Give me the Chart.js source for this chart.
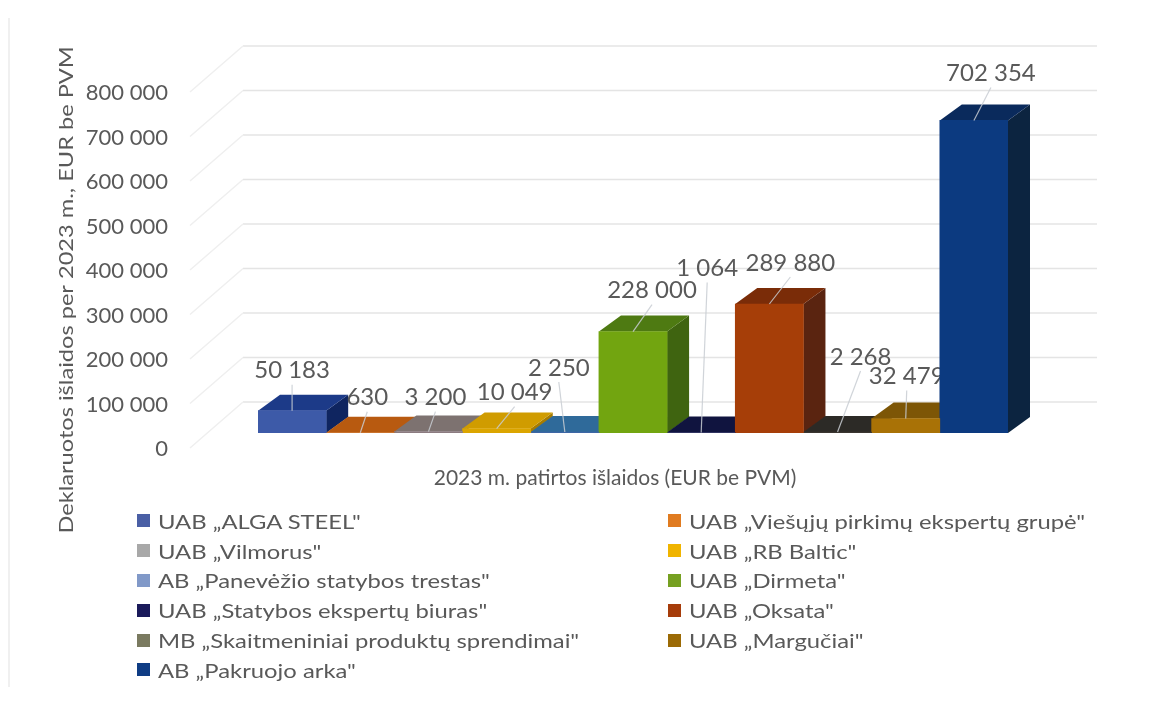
<!DOCTYPE html>
<html lang="lt">
<head>
<meta charset="utf-8">
<title>2023 m. patirtos išlaidos</title>
<script src="https://cdn.jsdelivr.net/npm/chart.js@4"></script>
<style>
  html, body { margin: 0; background: #fff; }
  #wrap { position: relative; width: 1155px; height: 707px; overflow: hidden; border-left: 0; }
  #wrap::before { content: ''; position: absolute; left: 8px; top: 18px; bottom: 20px; width: 2px; background: #f0f0f0; }
  canvas { position: absolute; left: 0; top: 0; filter: blur(0.4px); }
  #legend { position: absolute; left: 137px; top: 506px; display: grid; grid-template-columns: 531px 460px; grid-auto-rows: 29.8px;
    font: 20px Lato, sans-serif; color: #595959; filter: blur(0.4px); }
  #legend div { display: flex; align-items: center; white-space: nowrap; }
  #legend i { width: 13px; height: 13px; margin-right: 8px; flex: none; }
  #legend span { display: inline-block; transform: scaleX(1.19); transform-origin: left center; }
</style>
</head>
<body>
<div id="wrap">
  <canvas id="chart" width="1155" height="707"></canvas>
  <div id="legend"></div>
</div>
<script>
const categories = ['2023 m. patirtos išlaidos (EUR be PVM)'];
const companies = [
  'UAB „ALGA STEEL"', 'UAB „Viešųjų pirkimų ekspertų grupė"', 'UAB „Vilmorus"', 'UAB „RB Baltic"',
  'AB „Panevėžio statybos trestas"', 'UAB „Dirmeta"', 'UAB „Statybos ekspertų biuras"', 'UAB „Oksata"',
  'MB „Skaitmeniniai produktų sprendimai"', 'UAB „Margučiai"', 'AB „Pakruojo arka"'
];
const amounts = [50183, 630, 3200, 10049, 2250, 228000, 1064, 289880, 2268, 32479, 702354];
const yTicks = [0, 100000, 200000, 300000, 400000, 500000, 600000, 700000, 800000];

const frontColors = ['#3d5aa8', '#c8620c', '#8b7b80', '#dba500', '#3d66a5', '#72a510', '#14184e', '#a63e08', '#3a3530', '#a97206', '#0c3a80'];
const topColors = ['#1c3a88', '#b85a10', '#7d7270', '#d09c00', '#2f6a9a', '#4e7a12', '#10143f', '#7a2c08', '#2c2a26', '#7d5606', '#0a2a5c'];
const sideColors = ['#0f2560', '#8a420a', '#665c5c', '#a67c00', '#244f78', '#3f6410', '#0b0e30', '#5a2410', '#1e1c1a', '#5e4205', '#0c2440'];
const legendColors = ['#4a5fa5', '#e07b20', '#a8a8a8', '#f0b400', '#8199c8', '#76a021', '#1a1a5a', '#a63c0a', '#7a7a60', '#9b6a05', '#0f3c84'];

// kur dedamas užrašas, lyginant su stulpelio viršumi
const labelShift = [[0, -40], [7, -35], [7, -34], [18, -36], [-6, -64], [19, -41], [6, -164], [21, -41], [23, -75], [1, -42], [17, -47]];

const DEPTH_X = 22, DEPTH_Y = 16;
const fmt = v => String(v).replace(/\B(?=(\d{3})+$)/g, ' ');

const poly = (ctx, pts, color) => {
  ctx.fillStyle = color;
  ctx.beginPath();
  pts.forEach(([x, y], i) => i ? ctx.lineTo(x, y) : ctx.moveTo(x, y));
  ctx.closePath();
  ctx.fill();
};

const barsOf = chart => chart.data.datasets.map((d, i) => chart.getDatasetMeta(i).data[0]);

const box3d = {
  id: 'box3d',
  beforeDatasetsDraw(chart) {
    const { ctx, scales: { y } } = chart;
    ctx.save();
    // galinė siena ir šoninės linijos
    yTicks.forEach(v => {
      const py = y.getPixelForValue(v);
      ctx.strokeStyle = '#e4e4e4';
      ctx.lineWidth = 1.5;
      ctx.beginPath();
      ctx.moveTo(243, py - 31);
      ctx.lineTo(1097, py - 31);
      ctx.stroke();
      ctx.strokeStyle = '#efefef';
      ctx.beginPath();
      ctx.moveTo(190, py + 15);
      ctx.lineTo(243, py - 31);
      ctx.stroke();
    });
    barsOf(chart).forEach((bar, i) => {
      const l = bar.x - bar.width / 2, r = bar.x + bar.width / 2, t = bar.y, b = bar.base;
      poly(ctx, [[r, b], [r, t], [r + DEPTH_X, t - DEPTH_Y], [r + DEPTH_X, b - DEPTH_Y]], sideColors[i]);
      poly(ctx, [[l, t], [r, t], [r + DEPTH_X, t - DEPTH_Y], [l + DEPTH_X, t - DEPTH_Y]], topColors[i]);
    });
    // užrašai piešiami prieš priekines sienas, todėl 32 479 dalį uždengia paskutinis stulpelis
    ctx.font = '24px Lato, sans-serif';
    ctx.fillStyle = '#595959';
    ctx.textAlign = 'center';
    ctx.textBaseline = 'middle';
    barsOf(chart).forEach((bar, i) => {
      ctx.fillText(fmt(amounts[i]), bar.x + labelShift[i][0], bar.y + labelShift[i][1]);
    });
    ctx.restore();
  },
  afterDatasetsDraw(chart) {
    const { ctx } = chart;
    ctx.save();
    ctx.strokeStyle = 'rgba(200,205,210,0.85)';
    ctx.lineWidth = 1.2;
    barsOf(chart).forEach((bar, i) => {
      ctx.beginPath();
      ctx.moveTo(bar.x, bar.y);
      ctx.lineTo(bar.x + labelShift[i][0], bar.y + labelShift[i][1] + 14);
      ctx.stroke();
    });
    // vertikalios ašies pavadinimas
    ctx.translate(67, 290);
    ctx.rotate(-Math.PI / 2);
    ctx.scale(1.18, 1);
    ctx.font = '20px Lato, sans-serif';
    ctx.fillStyle = '#595959';
    ctx.textAlign = 'center';
    ctx.textBaseline = 'middle';
    ctx.fillText('Deklaruotos išlaidos per 2023 m., EUR be PVM', 0, 0);
    ctx.restore();
  }
};

new Chart(document.getElementById('chart'), {
  type: 'bar',
  data: {
    labels: categories,
    datasets: companies.map((name, i) => ({
      label: name,
      data: [amounts[i]],
      backgroundColor: frontColors[i],
      borderWidth: 0
    }))
  },
  options: {
    responsive: false,
    animation: false,
    categoryPercentage: 1,
    barPercentage: 1,
    layout: { padding: { left: 0, right: 147, top: 77, bottom: 0 } },
    plugins: { legend: { display: false }, tooltip: { enabled: false } },
    scales: {
      x: {
        afterFit: s => { s.height = 274; },
        grid: { display: false, drawTicks: false },
        border: { display: false },
        ticks: {
          color: '#595959',
          font: { family: 'Lato, sans-serif', size: 21 },
          padding: 33,
          labelOffset: -18,
          maxRotation: 0,
          autoSkip: false
        }
      },
      y: {
        min: 0,
        max: 800000,
        // tick padding would otherwise be added above and below the plot area
        afterFit: s => { s.width = 258; s.paddingTop = 0; s.paddingBottom = 0; },
        afterBuildTicks: s => { s.ticks = yTicks.map(v => ({ value: v })); },
        grid: { display: false, drawTicks: false },
        border: { display: false },
        ticks: {
          color: '#595959',
          font: { family: 'Lato, sans-serif', size: 22 },
          padding: 90,
          labelOffset: 16,
          callback: fmt
        }
      }
    }
  },
  plugins: [box3d]
});

// legenda dviem stulpeliais
document.getElementById('legend').innerHTML = companies.map((name, i) =>
  `<div><i style="background:${legendColors[i]}"></i><span>${name}</span></div>`).join('');
</script>
</body>
</html>
